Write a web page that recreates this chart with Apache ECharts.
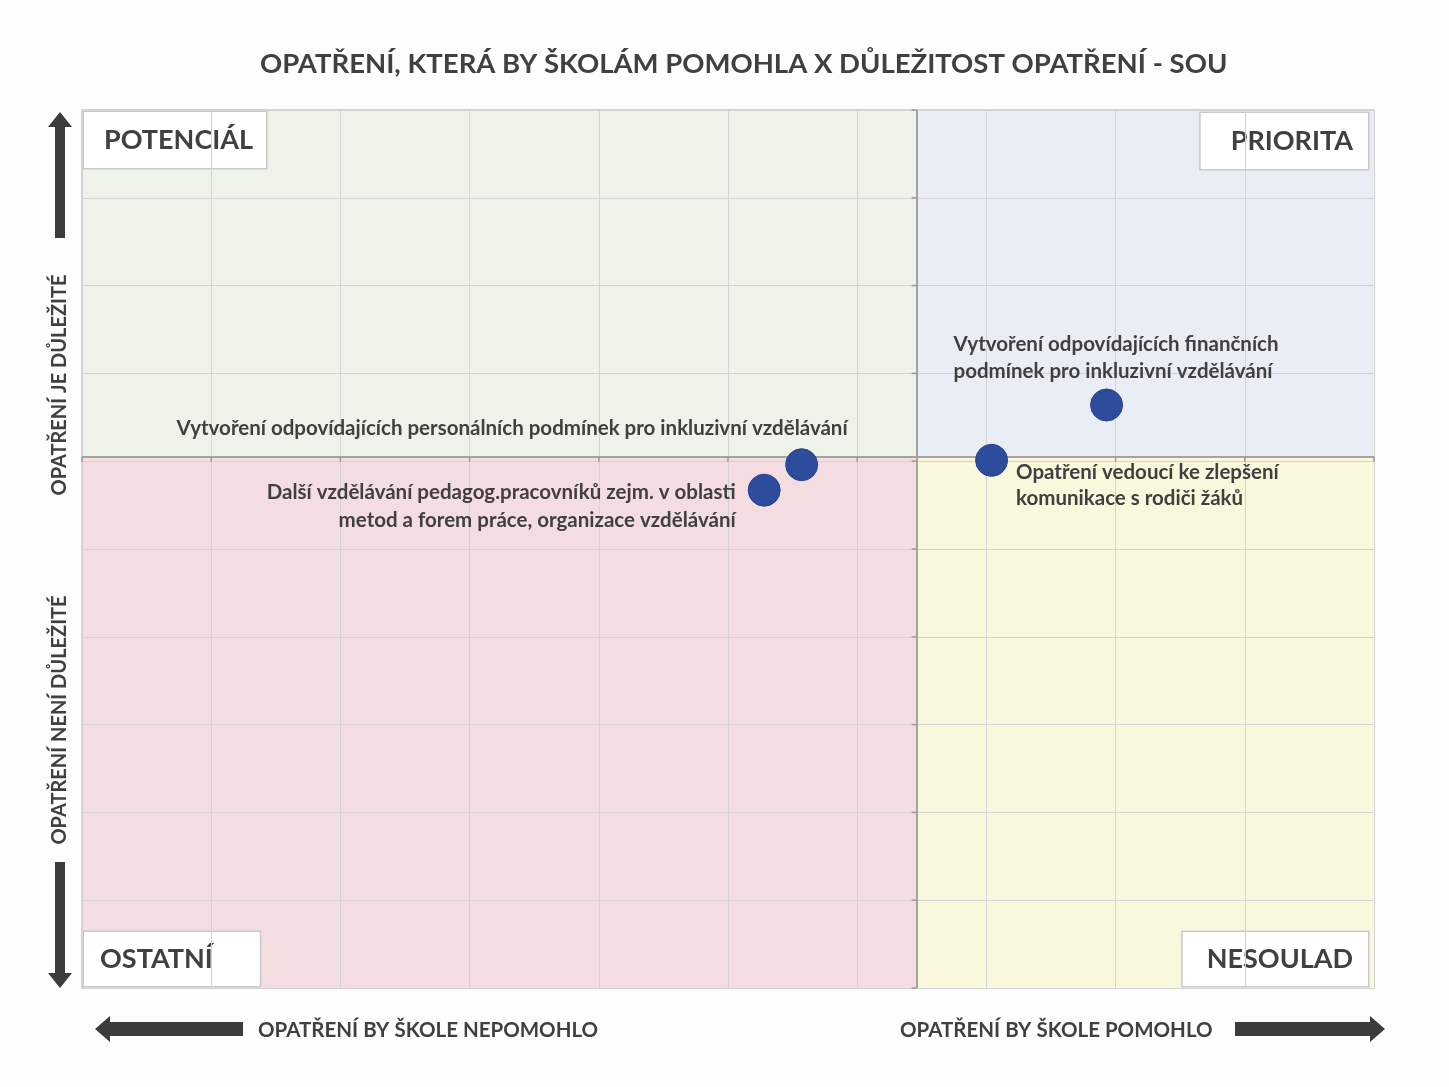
<!DOCTYPE html>
<html>
<head>
<meta charset="utf-8">
<script src="https://cdn.jsdelivr.net/npm/echarts@6/dist/echarts.min.js"></script>
<style>
  html, body { margin: 0; padding: 0; background: #ffffff; }
  #chart { width: 1449px; height: 1087px; }
</style>
</head>
<body>
<div id="chart"></div>
<script>
// data (arbitrary 0..10 index on both axes)
var measureNames = [
    'Vytvoření odpovídajících personálních podmínek pro inkluzivní vzdělávání',
    'Další vzdělávání pedagog.pracovníků zejm. v oblasti\nmetod a forem práce, organizace vzdělávání',
    'Opatření vedoucí ke zlepšení\nkomunikace s rodiči žáků',
    'Vytvoření odpovídajících finančních\npodmínek pro inkluzivní vzdělávání'
];
var helpValues = [5.57, 5.28, 7.04, 7.93];
var importanceValues = [5.96, 5.67, 6.01, 6.64];
var xCross = 6.46;
var yCross = 6.05;
var tickValues = [0, 1, 2, 3, 4, 5, 6, 7, 8, 9, 10];
var quadrantNames = ['POTENCIÁL', 'PRIORITA', 'OSTATNÍ', 'NESOULAD'];
var titleText = 'OPATŘENÍ, KTERÁ BY ŠKOLÁM POMOHLA X DŮLEŽITOST OPATŘENÍ - SOU';
var axisTexts = ['OPATŘENÍ JE DŮLEŽITÉ', 'OPATŘENÍ NENÍ DŮLEŽITÉ', 'OPATŘENÍ BY ŠKOLE NEPOMOHLO', 'OPATŘENÍ BY ŠKOLE POMOHLO'];

var FONT = 'Lato';
var TXT = '#404040';

var labelStyles = [
    { position: 'top', align: 'right', distance: 8, offset: [46, 0], lineHeight: 24 },
    { position: 'left', align: 'right', distance: 12, offset: [0, 16], lineHeight: 28 },
    { position: 'right', align: 'left', distance: 8, offset: [0, 25], lineHeight: 26 },
    { position: 'top', align: 'left', distance: 4, offset: [-153, 0], lineHeight: 27 }
];

var points = measureNames.map(function (name, i) {
    var ls = labelStyles[i];
    return {
        name: name,
        value: [helpValues[i], importanceValues[i]],
        label: {
            show: true,
            position: ls.position,
            align: ls.align,
            distance: ls.distance,
            offset: ls.offset,
            lineHeight: ls.lineHeight,
            formatter: '{b}',
            color: TXT,
            fontFamily: FONT,
            fontWeight: 'bold',
            fontSize: 20.5
        }
    };
});

function quadLabel(text, pos, pad, off) {
    return {
        show: true,
        position: pos,
        distance: 2,
        offset: off,
        formatter: text,
        color: TXT,
        fontFamily: FONT,
        fontWeight: 'bold',
        fontSize: 27,
        lineHeight: 30,
        backgroundColor: '#ffffff',
        borderColor: '#c9c9c9',
        borderWidth: 1.5,
        padding: pad
    };
}

// small tick marks along the crossing axes
function crossTicks(dir) {
    return function (params, api) {
        var v = api.value(0);
        var p, shape;
        if (dir === 'x') {
            p = api.coord([v, yCross]);
            shape = { x1: p[0], y1: p[1], x2: p[0], y2: p[1] + 5 };
        } else {
            p = api.coord([xCross, v]);
            shape = { x1: p[0] - 5, y1: p[1], x2: p[0], y2: p[1] };
        }
        return { type: 'line', shape: shape, style: { stroke: '#9a9a9a', lineWidth: 1.5 } };
    };
}

function arrow(points) {
    return {
        type: 'polygon',
        shape: { points: points },
        style: { fill: '#3c3c3c' }
    };
}

var chart = echarts.init(document.getElementById('chart'));
chart.setOption({
    backgroundColor: '#fdfdfd',
    animation: false,
    title: {
        text: titleText,
        left: 255,
        top: 45,
        textStyle: { fontFamily: FONT, fontWeight: 'bold', fontSize: 27.5, color: TXT }
    },
    grid: {
        left: 82, top: 110, right: 75, bottom: 99,
        show: true, borderColor: '#c8c8c8', borderWidth: 1.5
    },
    xAxis: {
        type: 'value', min: 0, max: 10, interval: 1, z: 2,
        axisLine: { show: false }, axisTick: { show: false }, axisLabel: { show: false },
        splitLine: { lineStyle: { color: '#d3d3d3', width: 1 } }
    },
    yAxis: {
        type: 'value', min: 0, max: 10, interval: 1, z: 2,
        axisLine: { show: false }, axisTick: { show: false }, axisLabel: { show: false },
        splitLine: { lineStyle: { color: '#d3d3d3', width: 1 } }
    },
    graphic: [
        arrow([[60, 112], [72, 127], [65, 127], [65, 238], [55, 238], [55, 127], [48, 127]]),
        arrow([[60, 988], [72, 973], [65, 973], [65, 862], [55, 862], [55, 973], [48, 973]]),
        arrow([[95, 1029], [110, 1016], [110, 1022], [243, 1022], [243, 1036], [110, 1036], [110, 1042]]),
        arrow([[1385, 1029], [1370, 1016], [1370, 1022], [1235, 1022], [1235, 1036], [1370, 1036], [1370, 1042]]),
        {
            type: 'text', x: 60, y: 385, rotation: Math.PI / 2,
            style: { text: axisTexts[0], fill: TXT, font: 'bold 20px ' + FONT, align: 'center', verticalAlign: 'middle' }
        },
        {
            type: 'text', x: 60, y: 720, rotation: Math.PI / 2,
            style: { text: axisTexts[1], fill: TXT, font: 'bold 20px ' + FONT, align: 'center', verticalAlign: 'middle' }
        },
        {
            type: 'text', x: 258, y: 1030,
            style: { text: axisTexts[2], fill: TXT, font: 'bold 20.5px ' + FONT, align: 'left', verticalAlign: 'middle' }
        },
        {
            type: 'text', x: 900, y: 1030,
            style: { text: axisTexts[3], fill: TXT, font: 'bold 20.5px ' + FONT, align: 'left', verticalAlign: 'middle' }
        }
    ],
    series: [
        {
            // quadrant backgrounds, drawn under the grid lines
            type: 'scatter',
            z: 1,
            silent: true,
            data: [],
            markArea: {
                silent: true,
                data: [
                    [{ xAxis: 0, yAxis: yCross, itemStyle: { color: '#edf3e8' }, label: quadLabel(quadrantNames[0], 'insideTopLeft', [13, 13, 13, 20], [0, 0]) },
                     { xAxis: xCross, yAxis: 10 }],
                    [{ xAxis: xCross, yAxis: yCross, itemStyle: { color: '#e8edf6' }, label: quadLabel(quadrantNames[1], 'insideTopRight', [13, 15, 13, 30], [-4, 1]) },
                     { xAxis: 10, yAxis: 10 }],
                    [{ xAxis: 0, yAxis: 0, itemStyle: { color: '#f4dde0' }, label: quadLabel(quadrantNames[2], 'insideBottomLeft', [12, 47, 12, 16], [0, 0]) },
                     { xAxis: xCross, yAxis: yCross }],
                    [{ xAxis: xCross, yAxis: 0, itemStyle: { color: '#faf8dc' }, label: quadLabel(quadrantNames[3], 'insideBottomRight', [12, 15, 12, 24], [-4, 0]) },
                     { xAxis: 10, yAxis: yCross }]
                ]
            }
        },
        {
            type: 'custom',
            silent: true,
            z: 3,
            renderItem: crossTicks('x'),
            data: tickValues.map(function (v) { return [v]; })
        },
        {
            type: 'custom',
            silent: true,
            z: 3,
            renderItem: crossTicks('y'),
            data: tickValues.map(function (v) { return [v]; })
        },
        {
            type: 'scatter',
            z: 5,
            symbolSize: 32,
            itemStyle: { color: '#2d4c9b', borderColor: '#27428a', borderWidth: 1, opacity: 1 },
            data: points,
            markLine: {
                silent: true,
                symbol: 'none',
                z: 3,
                label: { show: false },
                lineStyle: { color: '#a3a3a3', width: 2, type: 'solid' },
                data: [{ xAxis: xCross }, { yAxis: yCross }]
            }
        }
    ]
});
</script>
</body>
</html>
